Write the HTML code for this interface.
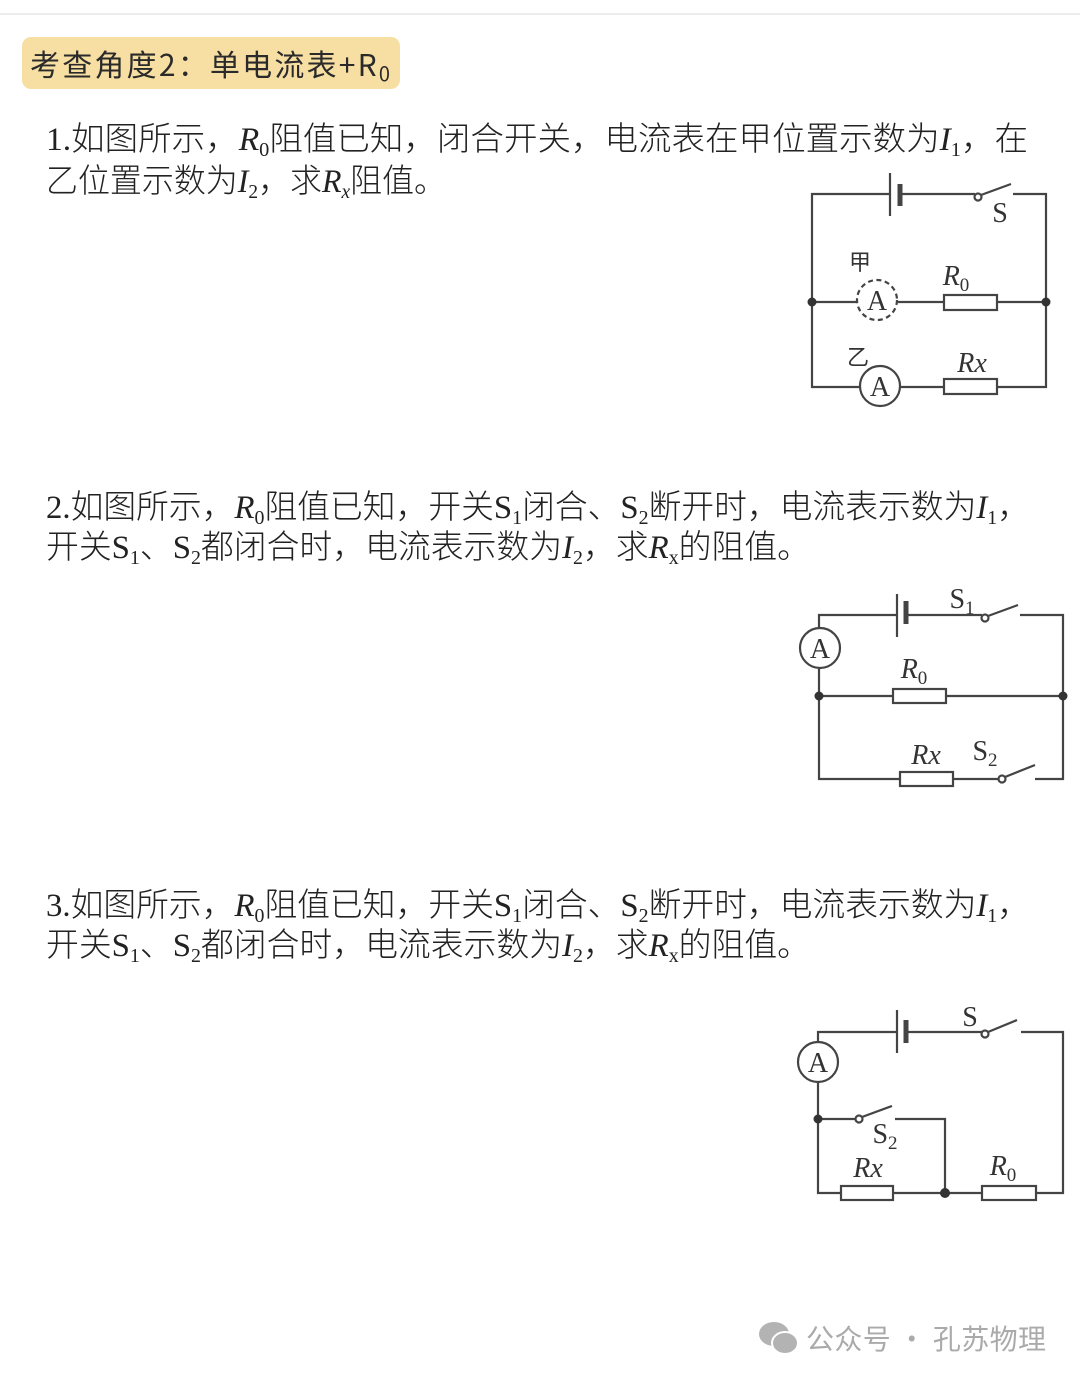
<!DOCTYPE html>
<html><head><meta charset="utf-8"><style>
html,body{margin:0;padding:0;background:#fff;}
svg{display:block;}
.t{font-family:"Liberation Serif","Noto Sans CJK SC",sans-serif;font-size:33px;fill:#222;font-weight:300;}
.c{font-family:"Liberation Serif",serif;fill:#333;}
</style></head><body>
<svg width="1080" height="1382" viewBox="0 0 1080 1382" xmlns="http://www.w3.org/2000/svg">
<line x1="0" y1="14" x2="1080" y2="14" stroke="#e6e6e6" stroke-width="1.5"/>
<rect x="22" y="37" width="378" height="52" rx="9" fill="#f7dfa3"/>
<text x="30" y="76" font-family="'Noto Sans CJK SC',sans-serif" font-size="30" fill="#2a2a2a" textLength="360">考查角度2：单电流表+R<tspan font-size="20" dy="5">0</tspan></text>

<g class="t">
<text x="46" y="150" textLength="982" lengthAdjust="spacingAndGlyphs">1.如图所示，<tspan font-style="italic">R</tspan><tspan font-size="20" dy="6">0</tspan><tspan dy="-6">阻值已知，闭合开关，电流表在甲位置示数为</tspan><tspan font-style="italic">I</tspan><tspan font-size="20" dy="6">1</tspan><tspan dy="-6">，在</tspan></text>
<text x="46" y="192" textLength="400" lengthAdjust="spacingAndGlyphs">乙位置示数为<tspan font-style="italic">I</tspan><tspan font-size="20" dy="6">2</tspan><tspan dy="-6">，求</tspan><tspan font-style="italic">R</tspan><tspan font-size="20" dy="6" font-style="italic">x</tspan><tspan dy="-6">阻值。</tspan></text>

<text x="46" y="518" textLength="984" lengthAdjust="spacingAndGlyphs">2.如图所示，<tspan font-style="italic">R</tspan><tspan font-size="20" dy="6">0</tspan><tspan dy="-6">阻值已知，开关S</tspan><tspan font-size="20" dy="6">1</tspan><tspan dy="-6">闭合、S</tspan><tspan font-size="20" dy="6">2</tspan><tspan dy="-6">断开时，电流表示数为</tspan><tspan font-style="italic">I</tspan><tspan font-size="20" dy="6">1</tspan><tspan dy="-6">，</tspan></text>
<text x="46" y="558" textLength="764" lengthAdjust="spacingAndGlyphs">开关S<tspan font-size="20" dy="6">1</tspan><tspan dy="-6">、S</tspan><tspan font-size="20" dy="6">2</tspan><tspan dy="-6">都闭合时，电流表示数为</tspan><tspan font-style="italic">I</tspan><tspan font-size="20" dy="6">2</tspan><tspan dy="-6">，求</tspan><tspan font-style="italic">R</tspan><tspan font-size="20" dy="6">x</tspan><tspan dy="-6">的阻值。</tspan></text>

<text x="46" y="916" textLength="984" lengthAdjust="spacingAndGlyphs">3.如图所示，<tspan font-style="italic">R</tspan><tspan font-size="20" dy="6">0</tspan><tspan dy="-6">阻值已知，开关S</tspan><tspan font-size="20" dy="6">1</tspan><tspan dy="-6">闭合、S</tspan><tspan font-size="20" dy="6">2</tspan><tspan dy="-6">断开时，电流表示数为</tspan><tspan font-style="italic">I</tspan><tspan font-size="20" dy="6">1</tspan><tspan dy="-6">，</tspan></text>
<text x="46" y="956" textLength="764" lengthAdjust="spacingAndGlyphs">开关S<tspan font-size="20" dy="6">1</tspan><tspan dy="-6">、S</tspan><tspan font-size="20" dy="6">2</tspan><tspan dy="-6">都闭合时，电流表示数为</tspan><tspan font-style="italic">I</tspan><tspan font-size="20" dy="6">2</tspan><tspan dy="-6">，求</tspan><tspan font-style="italic">R</tspan><tspan font-size="20" dy="6">x</tspan><tspan dy="-6">的阻值。</tspan></text>
</g>

<g stroke="#444" stroke-width="2.2" fill="none">
<polyline points="890,194 812,194 812,387 860,387"/>
<line x1="900" y1="194" x2="975" y2="194"/>
<line x1="890" y1="173" x2="890" y2="216"/>
<line x1="900" y1="184" x2="900" y2="206" stroke-width="5"/>
<circle cx="978" cy="197" r="3.5" fill="#fff"/>
<line x1="981" y1="195" x2="1011" y2="184"/>
<polyline points="1013,194 1046,194 1046,387 997,387"/>
<line x1="812" y1="302" x2="857" y2="302"/>
<circle cx="877" cy="300" r="20" stroke-dasharray="5,3.5"/>
<line x1="897" y1="302" x2="944" y2="302"/>
<rect x="944" y="295" width="53" height="15" fill="#fff"/>
<line x1="997" y1="302" x2="1046" y2="302"/>
<circle cx="880" cy="386" r="20" fill="#fff"/>
<line x1="900" y1="387" x2="944" y2="387"/>
<rect x="944" y="379" width="53" height="15" fill="#fff"/>
<polyline points="897,615 819,615 819,628"/>
<polyline points="819,668 819,779 900,779"/>
<line x1="906" y1="615" x2="982" y2="615"/>
<line x1="897" y1="594" x2="897" y2="637"/>
<line x1="906" y1="601" x2="906" y2="624" stroke-width="5"/>
<circle cx="985" cy="618" r="3.5" fill="#fff"/>
<line x1="988" y1="616" x2="1018" y2="605"/>
<polyline points="1020,615 1063,615 1063,779 1035,779"/>
<circle cx="820" cy="648" r="20"/>
<line x1="819" y1="696" x2="1063" y2="696"/>
<rect x="893" y="689" width="53" height="14" fill="#fff"/>
<rect x="900" y="772" width="53" height="14" fill="#fff"/>
<line x1="953" y1="779" x2="999" y2="779"/>
<circle cx="1002" cy="779" r="3.5" fill="#fff"/>
<line x1="1005" y1="777" x2="1035" y2="765"/>
<polyline points="897,1032 818,1032 818,1042"/>
<polyline points="818,1082 818,1193 841,1193"/>
<line x1="906" y1="1032" x2="982" y2="1032"/>
<line x1="897" y1="1010" x2="897" y2="1053"/>
<line x1="906" y1="1020" x2="906" y2="1043" stroke-width="5"/>
<circle cx="985" cy="1034" r="3.5" fill="#fff"/>
<line x1="988" y1="1032" x2="1017" y2="1020"/>
<polyline points="1021,1032 1063,1032 1063,1193 1036,1193"/>
<circle cx="818" cy="1062" r="20"/>
<line x1="818" y1="1119" x2="856" y2="1119"/>
<circle cx="859" cy="1119" r="3.5" fill="#fff"/>
<line x1="862" y1="1117" x2="892" y2="1106"/>
<polyline points="895,1119 945,1119 945,1193"/>
<line x1="893" y1="1193" x2="982" y2="1193"/>
<rect x="841" y="1186" width="52" height="14" fill="#fff"/>
<rect x="982" y="1186" width="54" height="14" fill="#fff"/>
</g>
<g fill="#333">
<circle cx="812" cy="302" r="4.5"/><circle cx="1046" cy="302" r="4.5"/>
<circle cx="819" cy="696" r="4.5"/><circle cx="1063" cy="696" r="4.5"/>
<circle cx="818" cy="1119" r="4.5"/><circle cx="945" cy="1193" r="5"/>
</g>
<g class="c" font-size="28" text-anchor="middle">
<text x="877" y="310">A</text><text x="880" y="396">A</text>
<text x="820" y="658">A</text><text x="818" y="1072">A</text>
<text x="1000" y="222">S</text>
<text x="956" y="285" font-style="italic">R<tspan font-size="19" dy="6" font-style="normal">0</tspan></text>
<text x="972" y="372" font-style="italic">Rx</text>
<text x="860" y="270" font-family="'Noto Sans CJK SC',sans-serif" font-size="22">甲</text>
<text x="858" y="365" font-family="'Noto Sans CJK SC',sans-serif" font-size="22">乙</text>
<text x="962" y="608">S<tspan font-size="19" dy="6">1</tspan></text>
<text x="914" y="678" font-style="italic">R<tspan font-size="19" dy="6" font-style="normal">0</tspan></text>
<text x="926" y="764" font-style="italic">Rx</text>
<text x="985" y="760">S<tspan font-size="19" dy="6">2</tspan></text>
<text x="970" y="1026">S</text>
<text x="885" y="1143">S<tspan font-size="19" dy="6">2</tspan></text>
<text x="868" y="1177" font-style="italic">Rx</text>
<text x="1003" y="1175" font-style="italic">R<tspan font-size="19" dy="6" font-style="normal">0</tspan></text>
</g>
<g fill="#b3b3b3">
<ellipse cx="774" cy="1334" rx="15" ry="12"/>
<ellipse cx="785" cy="1343" rx="13" ry="11" stroke="#fff" stroke-width="2"/>
</g>
<text x="806" y="1349" font-family="'Noto Sans CJK SC',sans-serif" font-size="28" fill="#aaa" textLength="240">公众号 · 孔苏物理</text>
</svg>
</body></html>
